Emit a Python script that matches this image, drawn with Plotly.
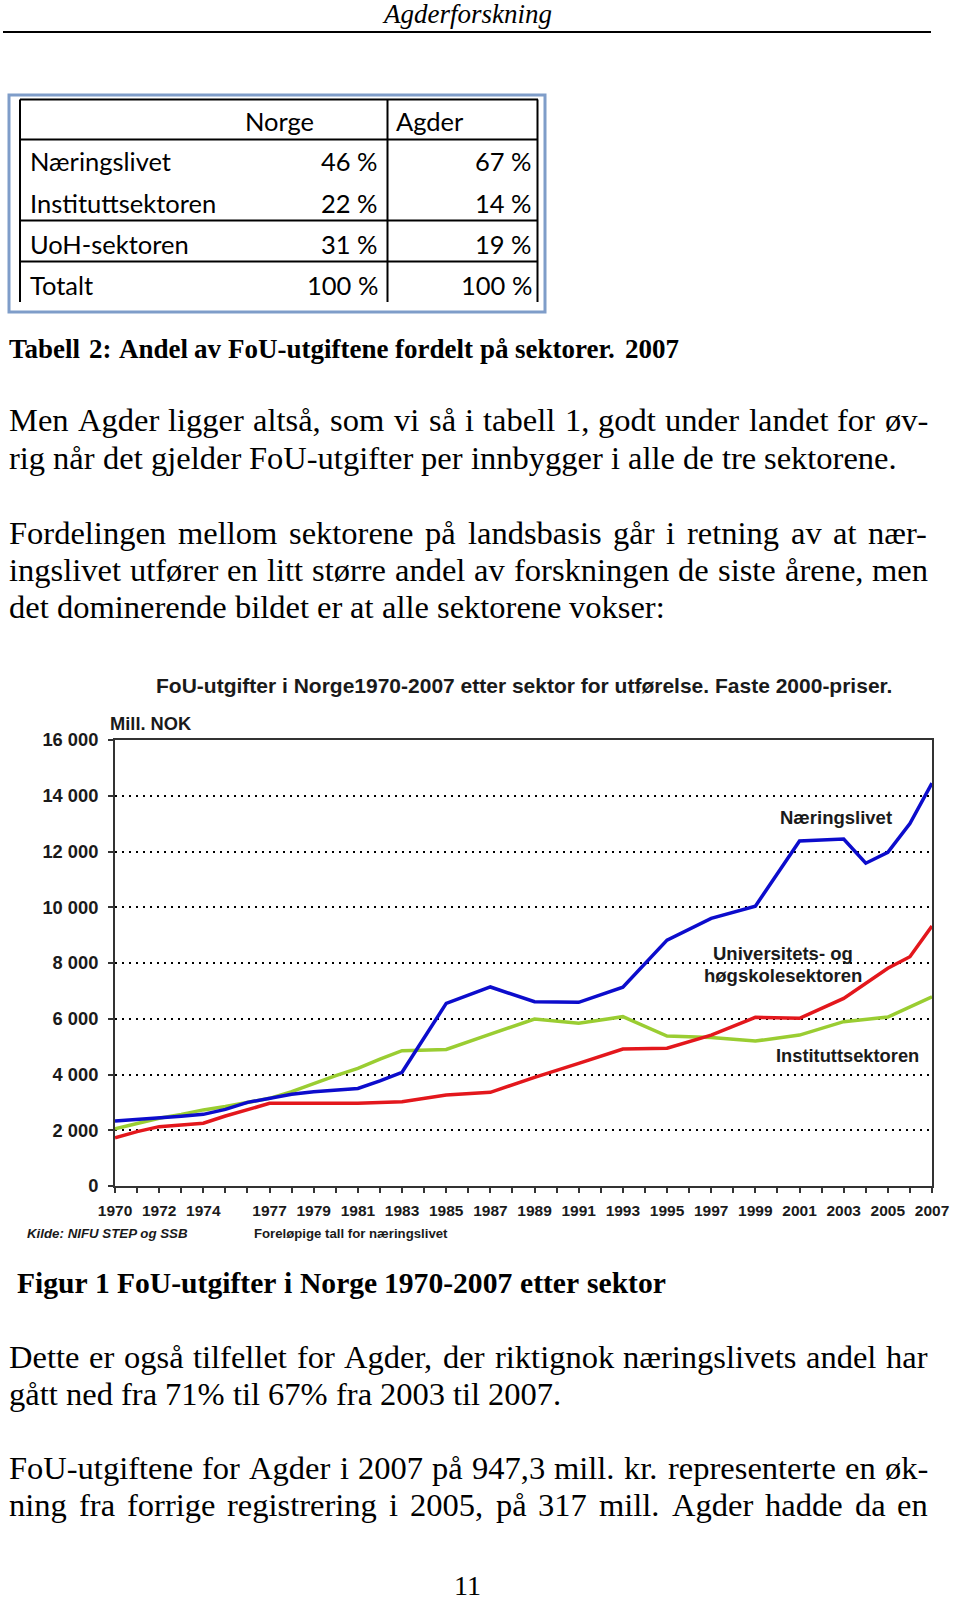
import plotly.graph_objects as go

# ------------------------------------------------------------------ data
years_nl = [1970, 1971, 1972, 1973, 1974, 1975, 1976, 1977, 1978, 1979, 1980, 1981, 1982, 1983,
            1985, 1987, 1989, 1991, 1993, 1995, 1997, 1999, 2001, 2003, 2004, 2005, 2006, 2007]
naeringslivet = [2330, 2380, 2450, 2500, 2570, 2750, 3000, 3150, 3290, 3380, 3430, 3500, 3770, 4080,
                 6550, 7140, 6610, 6590, 7130, 8820, 9600, 10040, 12380, 12450, 11580, 11970, 13000, 14450]

years_uoh = [1970, 1971, 1972, 1973, 1974, 1975, 1976, 1977, 1979, 1981, 1983, 1985, 1987, 1989,
             1991, 1993, 1995, 1997, 1999, 2001, 2003, 2005, 2006, 2007]
uoh = [1730, 1950, 2130, 2190, 2250, 2510, 2730, 2965, 2965, 2970, 3025, 3265, 3360, 3900,
       4400, 4915, 4940, 5415, 6050, 6015, 6730, 7810, 8225, 9330]

years_inst = [1970, 1971, 1972, 1973, 1974, 1975, 1976, 1977, 1978, 1979, 1980, 1981, 1982, 1983,
              1985, 1987, 1989, 1991, 1993, 1995, 1997, 1999, 2001, 2003, 2005, 2007]
institutt = [2050, 2250, 2430, 2570, 2730, 2850, 2990, 3145, 3385, 3680, 3960, 4220, 4555, 4855,
             4900, 5450, 5990, 5835, 6075, 5380, 5330, 5200, 5415, 5895, 6060, 6790]

x_label_years = [1970, 1972, 1974, 1977, 1979, 1981, 1983, 1985, 1987, 1989, 1991, 1993, 1995,
                 1997, 1999, 2001, 2003, 2005, 2007]
y_tick_vals = [0, 2000, 4000, 6000, 8000, 10000, 12000, 14000, 16000]
y_tick_text = ["0", "2 000", "4 000", "6 000", "8 000", "10 000", "12 000", "14 000", "16 000"]

table_header = ["Norge", "Agder"]
table_rows = ["Næringslivet", "Instituttsektoren", "UoH-sektoren", "Totalt"]
norge_pct = ["46 %", "22 %", "31 %", "100 %"]
agder_pct = ["67 %", "14 %", "19 %", "100 %"]

# ------------------------------------------------------------------ page geometry
W, H = 960, 1603
PLOT_L, PLOT_R, PLOT_T, PLOT_B = 115, 932, 740, 1186


def px(x):
    return x / W


def py(y):
    return 1 - y / H


SERIF = "Liberation Serif, Times New Roman, serif"
SANS = "Liberation Sans, Arial, sans-serif"
TABLE_FONT = "Lato, Open Sans, sans-serif"

annotations = []
shapes = []


def add_text(x, y, s, size, family, anchor="left", weight="normal", style="normal", color="black"):
    annotations.append(dict(
        x=px(x), y=py(y), xref="paper", yref="paper", text=s, showarrow=False,
        xanchor=anchor, yanchor="middle", borderpad=0,
        font=dict(family=family, size=size, color=color, weight=weight, style=style)))


# Times New Roman advance widths (1/1000 em), used only to space the words of a line
TNR = {' ': 250, ',': 250, '.': 250, '-': 333, ':': 278, ';': 278, '%': 833,
       'A': 722, 'B': 667, 'C': 667, 'D': 722, 'E': 611, 'F': 556, 'G': 722, 'H': 722, 'I': 333,
       'J': 389, 'K': 722, 'L': 611, 'M': 889, 'N': 722, 'O': 722, 'P': 556, 'R': 667, 'S': 556,
       'T': 611, 'U': 722, 'V': 722, 'W': 944,
       'a': 444, 'b': 500, 'c': 444, 'd': 500, 'e': 444, 'f': 333, 'g': 500, 'h': 500, 'i': 278,
       'j': 278, 'k': 500, 'l': 278, 'm': 778, 'n': 500, 'o': 500, 'p': 500, 'q': 500, 'r': 333,
       's': 389, 't': 278, 'u': 500, 'v': 500, 'w': 722, 'x': 500, 'y': 500, 'z': 444,
       'å': 444, 'ø': 500, 'æ': 667}
TNRB = {' ': 250, ',': 250, '.': 250, '-': 333, ':': 333, '%': 1000,
        'A': 722, 'F': 611, 'N': 722, 'T': 667, 'U': 722,
        'a': 500, 'b': 556, 'd': 556, 'e': 444, 'f': 333, 'g': 500, 'i': 278, 'k': 556, 'l': 278,
        'n': 556, 'o': 500, 'p': 556, 'r': 444, 's': 389, 't': 333, 'u': 556, 'v': 500, 'å': 500}
for d in "0123456789":
    TNR[d] = 500
    TNRB[d] = 500

BODY = 32.5
TEXT_L, TEXT_R = 8, 927


def body_line(text, y, justify=True, size=BODY, x0=TEXT_L, x1=TEXT_R, weight="normal"):
    table = TNRB if weight == "bold" else TNR
    words = text.split(" ")
    widths = [sum(table.get(c, 500) for c in w) * size / 1000 for w in words]
    space = table[' '] * size / 1000
    if justify and len(words) > 1:
        gap = max((x1 - x0 - sum(widths)) / (len(words) - 1), space * 0.8)
    else:
        gap = space
    x = x0
    for w, wd in zip(words, widths):
        add_text(x, y, w, size, SERIF, weight=weight)
        x += wd + gap


# ------------------------------------------------------------------ header
add_text(467, 14, "Agderforskning", 27, SERIF, anchor="center", style="italic")
shapes.append(dict(type="line", xref="paper", yref="paper", x0=px(3), x1=px(931), y0=py(32), y1=py(32),
                   line=dict(color="black", width=2)))

# ------------------------------------------------------------------ table
shapes.append(dict(type="rect", xref="paper", yref="paper", x0=px(9), x1=px(545), y0=py(95), y1=py(312),
                   line=dict(color="#7F9DC9", width=3)))
for yy in [99.5, 139.5, 220.5, 261.5]:
    shapes.append(dict(type="line", xref="paper", yref="paper", x0=px(20), x1=px(538), y0=py(yy), y1=py(yy),
                       line=dict(color="black", width=2)))
for xx in [20, 387.5, 537.5]:
    shapes.append(dict(type="line", xref="paper", yref="paper", x0=px(xx), x1=px(xx), y0=py(99.5), y1=py(302),
                       line=dict(color="black", width=2)))
TSIZE = 25.5
add_text(244, 121, table_header[0], TSIZE, TABLE_FONT)
add_text(395, 121, table_header[1], TSIZE, TABLE_FONT)
row_y = [161, 202.5, 244, 284.5]
for lab, n, a, yy in zip(table_rows, norge_pct, agder_pct, row_y):
    add_text(29, yy, lab, TSIZE, TABLE_FONT)
    add_text(379, yy, n, TSIZE, TABLE_FONT, anchor="right")
    add_text(533, yy, a, TSIZE, TABLE_FONT, anchor="right")

# ------------------------------------------------------------------ body text
body_line("Tabell 2: Andel av FoU-utgiftene fordelt på sektorer. 2007", 349, justify=False, size=27.0,
          weight="bold")
body_line("Men Agder ligger altså, som vi så i tabell 1, godt under landet for øv-", 420)
body_line("rig når det gjelder FoU-utgifter per innbygger i alle de tre sektorene.", 458, justify=False)
body_line("Fordelingen mellom sektorene på landsbasis går i retning av at nær-", 533)
body_line("ingslivet utfører en litt større andel av forskningen de siste årene, men", 569.5)
body_line("det dominerende bildet er at alle sektorene vokser:", 607, justify=False)

body_line("Figur 1 FoU-utgifter i Norge 1970-2007 etter sektor", 1283, justify=False, size=29.6,
          x0=16, weight="bold")
body_line("Dette er også tilfellet for Agder, der riktignok næringslivets andel har", 1357)
body_line("gått ned fra 71% til 67% fra 2003 til 2007.", 1394, justify=False)
body_line("FoU-utgiftene for Agder i 2007 på 947,3 mill. kr. representerte en øk-", 1468)
body_line("ning fra forrige registrering i 2005, på 317 mill. Agder hadde da en", 1505)
add_text(467, 1585, "11", 28, SERIF, anchor="center")

# ------------------------------------------------------------------ chart texts
CT = "#1a1a1a"
add_text(524, 685, "FoU-utgifter i Norge1970-2007 etter sektor for utførelse. Faste 2000-priser.", 21, SANS,
         anchor="center", weight="bold", color=CT)
add_text(109, 723, "Mill. NOK", 18.3, SANS, weight="bold", color=CT)
add_text(779, 817, "Næringslivet", 18.5, SANS, weight="bold", color=CT)
add_text(783, 953, "Universitets- og", 18.5, SANS, anchor="center", weight="bold", color=CT)
add_text(783, 975, "høgskolesektoren", 18.5, SANS, anchor="center", weight="bold", color=CT)
add_text(775, 1055, "Instituttsektoren", 18.3, SANS, weight="bold", color=CT)
add_text(26, 1233, "Kilde: NIFU STEP og SSB", 13.3, SANS, weight="bold", style="italic", color=CT)
add_text(253, 1233, "Foreløpige tall for næringslivet", 13.2, SANS, weight="bold", color=CT)

# ------------------------------------------------------------------ figure
fig = go.Figure()
fig.add_trace(go.Scatter(x=years_inst, y=institutt, mode="lines", name="Instituttsektoren",
                         line=dict(color="#9ACD32", width=3.5), hoverinfo="skip"))
fig.add_trace(go.Scatter(x=years_uoh, y=uoh, mode="lines", name="Universitets- og høgskolesektoren",
                         line=dict(color="#E3171C", width=3.5), hoverinfo="skip"))
fig.add_trace(go.Scatter(x=years_nl, y=naeringslivet, mode="lines", name="Næringslivet",
                         line=dict(color="#0C0CCC", width=3.5), hoverinfo="skip"))

all_years = list(range(1970, 2008))
fig.update_layout(
    width=W, height=H, margin=dict(l=0, r=0, t=0, b=0, pad=0, autoexpand=False),
    paper_bgcolor="white", plot_bgcolor="white", showlegend=False,
    annotations=annotations, shapes=shapes,
    xaxis=dict(domain=[px(PLOT_L), px(PLOT_R)], range=[1970, 2007], automargin=False,
               tickmode="array", tickvals=all_years,
               ticktext=[str(y) if y in x_label_years else "" for y in all_years],
               ticks="outside", ticklen=5, tickwidth=1.5, tickcolor="#333",
               showline=True, linecolor="#333", linewidth=2, mirror=True,
               showgrid=False, zeroline=False, ticklabelstandoff=4,
               tickfont=dict(family=SANS, size=15.5, color=CT, weight="bold")),
    yaxis=dict(domain=[py(PLOT_B), py(PLOT_T)], range=[0, 16000], automargin=False,
               tickmode="array", tickvals=y_tick_vals, ticktext=y_tick_text,
               ticks="outside", ticklen=5, tickwidth=1.5, tickcolor="#333",
               showline=True, linecolor="#333", linewidth=2, mirror=True,
               showgrid=True, gridcolor="black", gridwidth=2, griddash="2px,5px",
               zeroline=False, ticklabelstandoff=6,
               tickfont=dict(family=SANS, size=18.3, color=CT, weight="bold")),
)

fig.write_html("out.html")
